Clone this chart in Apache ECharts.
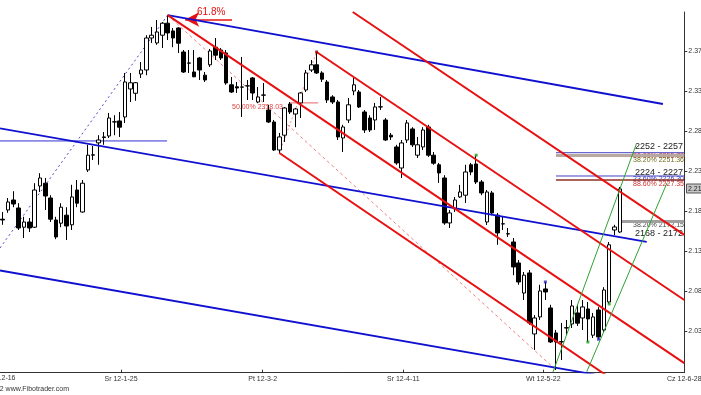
<!DOCTYPE html>
<html><head><meta charset="utf-8">
<script src="https://cdn.jsdelivr.net/npm/echarts@6/dist/echarts.min.js"></script>
<style>html,body{margin:0;padding:0;background:#fff}#c{width:701px;height:395px}</style>
</head><body><div id="c"></div><script>
// OHLC bars: [open, close, low, high]; x = bar index
const ohlc = [
[2.165,2.164,2.158,2.174],[2.1765,2.1865,2.173,2.1915],[2.189,2.184,2.180,2.200],[2.179,2.154,2.1515,2.185],
[2.155,2.1615,2.1415,2.168],[2.1615,2.154,2.149,2.1665],[2.155,2.2015,2.154,2.210],[2.2065,2.2165,2.199,2.2225],
[2.210,2.194,2.1765,2.2165],[2.1915,2.165,2.1615,2.195],[2.164,2.1428,2.140,2.168],[2.160,2.180,2.155,2.185],
[2.170,2.1565,2.139,2.180],[2.158,2.1928,2.1515,2.208],[2.2015,2.185,2.180,2.214],[2.174,2.210,2.173,2.214],
[2.2265,2.245,2.224,2.258],[2.245,2.2455,2.239,2.2565],[2.2604,2.264,2.233,2.270],[2.2678,2.2672,2.258,2.274],
[2.269,2.2915,2.2665,2.2978],[2.2865,2.2868,2.270,2.295],[2.2878,2.280,2.2678,2.299],[2.2928,2.3365,2.2853,2.3478],
[2.3278,2.3355,2.3115,2.3478],[2.3224,2.3356,2.313,2.3365],[2.3465,2.3515,2.3415,2.3615],[2.3515,2.3915,2.345,2.395],
[2.3915,2.395,2.3853,2.4053],[2.3853,2.399,2.383,2.414],[2.395,2.410,2.379,2.4115],[2.410,2.3978,2.389,2.420],
[2.4003,2.3915,2.380,2.404],[2.404,2.385,2.3728,2.405],[2.374,2.349,2.3478,2.3765],[2.360,2.3603,2.3478,2.3765],
[2.349,2.343,2.3425,2.3765],[2.3665,2.3515,2.339,2.3678],[2.345,2.339,2.3365,2.349],[2.358,2.3753,2.3553,2.3778],
[2.380,2.370,2.364,2.3915],[2.3765,2.3665,2.364,2.379],[2.3728,2.3353,2.333,2.3765],[2.333,2.324,2.3228,2.3428],
[2.3305,2.329,2.3228,2.3365],[2.330,2.3303,2.2928,2.3678],[2.3315,2.3318,2.314,2.339],[2.3415,2.3228,2.314,2.3428],
[2.3115,2.3178,2.310,2.3303],[2.320,2.3203,2.3115,2.3353],[2.3015,2.2865,2.2853,2.308],[2.2865,2.2515,2.2503,2.289],
[2.2515,2.2678,2.2478,2.2728],[2.270,2.304,2.2615,2.3053],[2.309,2.299,2.2965,2.3115],[2.2965,2.3028,2.280,2.304],
[2.3103,2.3228,2.2915,2.324],[2.3265,2.3478,2.324,2.3515],[2.3515,2.358,2.349,2.364],[2.358,2.3478,2.3465,2.374],
[2.3478,2.340,2.3365,2.350],[2.3365,2.314,2.3103,2.339],[2.3178,2.3115,2.309,2.320],[2.3115,2.2678,2.264,2.314],
[2.2665,2.2803,2.249,2.283],[2.289,2.308,2.2853,2.3165],[2.3253,2.333,2.320,2.3415],[2.324,2.3053,2.304,2.3265],
[2.299,2.2765,2.2728,2.3015],[2.2915,2.2765,2.274,2.295],[2.289,2.3053,2.2765,2.3103],[2.3053,2.3055,2.3015,2.3178],
[2.289,2.264,2.2628,2.2915],[2.270,2.2678,2.264,2.2728],[2.2553,2.2353,2.233,2.258],[2.229,2.2603,2.2165,2.264],
[2.264,2.2853,2.2603,2.289],[2.2778,2.258,2.2553,2.280],[2.245,2.258,2.2415,2.2678],[2.2553,2.2765,2.2515,2.280],
[2.2803,2.245,2.2428,2.283],[2.245,2.235,2.233,2.249],[2.233,2.2228,2.2103,2.2353],[2.2165,2.1603,2.158,2.220],
[2.1603,2.1728,2.154,2.1765],[2.1778,2.189,2.174,2.1928],[2.1928,2.199,2.1915,2.2078],[2.195,2.224,2.1853,2.233],
[2.233,2.224,2.220,2.2353],[2.234,2.2115,2.209,2.245],[2.2115,2.1978,2.195,2.214],[2.1615,2.199,2.1578,2.2015],
[2.1978,2.1728,2.170,2.2003],[2.170,2.1478,2.133,2.1728],[2.159,2.1593,2.1515,2.1678],[2.1468,2.1465,2.1428,2.154],
[2.1365,2.1053,2.095,2.1415],[2.1103,2.0865,2.083,2.114],[2.0727,2.095,2.064,2.099],[2.0978,2.0353,2.033,2.1015],
[2.0215,2.0415,2.0015,2.045],[2.0428,2.0753,2.039,2.083],[2.0778,2.074,2.064,2.0865],[2.054,2.0115,2.0103,2.058],
[2.0228,2.0115,1.9765,2.0265],[2.0115,2.012,1.989,2.0353],[2.0293,2.029,2.020,2.039],[2.034,2.0565,2.029,2.064],
[2.0478,2.035,2.0315,2.058],[2.0415,2.0553,2.0265,2.064],[2.0528,2.0403,2.0115,2.0615],[2.020,2.0428,2.0165,2.0478],
[2.0515,2.0178,2.015,2.055],[2.0265,2.0765,2.024,2.080],[2.0615,2.133,2.059,2.1365],[2.1515,2.1553,2.145,2.158],
[2.149,2.2028,2.1478,2.2053]
];
// x-axis date ticks (bar-index positions) and labels
const xTickPos = [22.24, 48.87, 75.30, 101.62, 128.12];
const xTickLabels = ['Sr 12-1-25', 'Pt 12-3-2', 'Sr 12-4-11', 'Wt 12-5-22', 'Cz 12-6-28'];
// y-axis ticks and labels
const yTickPos = [2.025, 2.075, 2.125, 2.175, 2.225, 2.275, 2.325, 2.375];
const yTickLabels = ['2.03', '2.08', '2.13', '2.18', '2.23', '2.28', '2.33', '2.37'];
const X_MIN = -0.508, X_MAX = 128.12, Y_MIN = 1.9731, Y_MAX = 2.424;

// trend lines, endpoints as [barIndex, price]
const blueTop = [[31, 2.420], [124.1, 2.309]];
const blueMid = [[-0.51, 2.2786], [121.05, 2.1365]];
const blueLow = [[-0.51, 2.1009], [112.3, 1.9696]];
const blueHoriz = [[-0.51, 2.2628], [30.9, 2.2628]];
const blueDotted = [[-0.51, 2.129], [31, 2.420]];
const redA = [[31, 2.420], [128.12, 1.985]];
const redB = [[59, 2.374], [128.12, 2.064]];
const redC = [[65.8, 2.424], [128.12, 2.1453]];
const redD = [[52, 2.2478], [114.2, 1.9665]];
const redDashed = [[31, 2.420], [104, 1.9765]];
const pinkDotted = [[52, 2.2478], [59, 2.374]];
const pink50 = [[54, 2.3103], [59.3, 2.3103]];
const greenA = [[103.44, 1.974], [119.04, 2.2578]];
const greenB = [[109.77, 1.974], [124.87, 2.2103]];
const zone1Blue = [[104, 2.2481], [128.12, 2.2481]];
const zone1Band = [[104, 2.2446], [128.12, 2.2446]];
const zone2Blue = [[104, 2.219], [128.12, 2.219]];
const zone2Red = [[104, 2.214], [128.12, 2.214]];
const zone3Band = [[116, 2.1621], [128.12, 2.1621]];
const arrow618 = [[43.1, 2.4146], [34.3, 2.4146]];
// fractal markers [barIndex, price, colour]
const markers = [[59, 2.374, '#a00000'], [89, 2.245, '#20a020'], [102, 2.0865, '#2020c0'], [110, 2.0115, '#20a020'], [112, 2.015, '#2020c0'], [114, 2.059, '#20a020']];

const FONT = "'Liberation Sans Narrow','Arial Narrow','Liberation Sans',Arial,sans-serif";

function ln(data, color, width, type, z) {
  return { type: 'line', data: data, symbol: 'none', silent: true, animation: false, clip: true, z: z || 3,
    lineStyle: { color: color, width: width, type: type || 'solid' } };
}

const chart = echarts.init(document.getElementById('c'), null, { renderer: 'canvas' });
const candleData = ohlc.map((d, i) => [i, d[0], d[1], d[2], d[3]]);

chart.setOption({
  animation: false,
  backgroundColor: '#fff',
  grid: { left: 0, right: 16.7, top: 12, bottom: 22.3, outerBoundsMode: 'none', containLabel: false },
  xAxis: {
    type: 'value', min: X_MIN, max: X_MAX, splitLine: { show: false },
    axisLine: { show: true, onZero: false, lineStyle: { color: '#333', width: 1 } },
    axisTick: { show: true, inside: true, length: 3, customValues: xTickPos, lineStyle: { color: '#333' } },
    axisLabel: { show: true, customValues: xTickPos, margin: 3, fontSize: 7, color: '#333', fontFamily: FONT,
      formatter: v => { let k = 0, b = 1e9; xTickPos.forEach((p, i) => { if (Math.abs(p - v) < b) { b = Math.abs(p - v); k = i; } }); return xTickLabels[k]; } }
  },
  yAxis: {
    type: 'value', position: 'right', min: Y_MIN, max: Y_MAX, scale: true, splitLine: { show: false },
    axisLine: { show: true, onZero: false, lineStyle: { color: '#333', width: 1 } },
    axisTick: { show: true, inside: false, length: 3, customValues: yTickPos, lineStyle: { color: '#333' } },
    axisLabel: { show: true, customValues: yTickPos, margin: 4, fontSize: 7, color: '#333', fontFamily: FONT, align: 'left',
      formatter: v => { let k = 0, b = 1e9; yTickPos.forEach((p, i) => { if (Math.abs(p - v) < b) { b = Math.abs(p - v); k = i; } }); return yTickLabels[k]; } }
  },
  series: [
    ln(blueHoriz, '#3030d0', 1),
    ln(blueDotted, '#4a4ad0', 1, [2, 3]),
    ln(redDashed, '#f08080', 1, [3, 3]),
    ln(pinkDotted, '#f09090', 1, [2, 2]),
    ln(pink50, '#f08080', 1.2),
    ln(zone1Band, '#b8a8a0', 3), ln(zone1Blue, '#4040c0', 1),
    ln(zone2Blue, '#4040c0', 1), ln(zone2Red, '#903020', 1.5),
    ln(zone3Band, '#a0a0a0', 3),
    {
      type: 'candlestick', data: candleData, barWidth: 4, z: 4, animation: false, silent: true,
      itemStyle: { color: '#fff', color0: '#000', borderColor: '#000', borderColor0: '#000', borderColorDoji: '#000', borderWidth: 1 }
    },
    ln(blueTop, '#1010d0', 1.8, 'solid', 5),
    ln(blueMid, '#1010d0', 1.8, 'solid', 5),
    ln(blueLow, '#1010d0', 1.8, 'solid', 5),
    ln(redA, '#e81010', 2, 'solid', 5),
    ln(redB, '#e81010', 2, 'solid', 5),
    ln(redC, '#e81010', 2, 'solid', 5),
    ln(redD, '#e81010', 2, 'solid', 5),
    ln(greenA, '#30a030', 1, 'solid', 5),
    ln(greenB, '#30a030', 1, 'solid', 5),
    {
      type: 'line', data: [], symbol: 'none', silent: true, animation: false, z: 6,
      markLine: { silent: true, animation: false, symbol: ['none', 'arrow'], symbolSize: [11, 14], label: { show: false },
        lineStyle: { color: '#e81010', width: 1.5, type: 'solid' },
        data: [[{ coord: arrow618[0] }, { coord: arrow618[1] }]] }
    },
    {
      type: 'scatter', silent: true, animation: false, z: 6, symbol: 'rect', symbolSize: 3,
      data: markers.map(m => ({ value: [m[0], m[1]], itemStyle: { color: m[2] } }))
    }
  ],
  graphic: [
    { type: 'text', left: 197, top: 7, style: { text: '61.8%', fill: '#e81010', font: '10px ' + FONT } },
    { type: 'text', x: 232, y: 107, style: { text: '50.00% 2318.03', fill: '#e04040', font: '7px ' + FONT, textVerticalAlign: 'middle' } },
    { type: 'text', x: 683, y: 147, style: { text: '2252 - 2257', fill: '#222', font: '9px ' + FONT, textAlign: 'right', textVerticalAlign: 'middle' } },
    { type: 'text', x: 684, y: 156, style: { text: '50.00% 2255.73', fill: '#d03030', font: '7px ' + FONT, textAlign: 'right', textVerticalAlign: 'middle' } },
    { type: 'text', x: 684, y: 160, style: { text: '38.20% 2251.36', fill: '#707020', font: '7px ' + FONT, textAlign: 'right', textVerticalAlign: 'middle' } },
    { type: 'text', x: 683, y: 172.5, style: { text: '2224 - 2227', fill: '#222', font: '9px ' + FONT, textAlign: 'right', textVerticalAlign: 'middle' } },
    { type: 'text', x: 684, y: 179, style: { text: '23.60% 2226.30', fill: '#3030c0', font: '7px ' + FONT, textAlign: 'right', textVerticalAlign: 'middle' } },
    { type: 'text', x: 684, y: 184, style: { text: '88.60% 2227.35', fill: '#d03030', font: '7px ' + FONT, textAlign: 'right', textVerticalAlign: 'middle' } },
    { type: 'text', x: 684, y: 225.5, style: { text: '38.20% 2172.15', fill: '#444', font: '7px ' + FONT, textAlign: 'right', textVerticalAlign: 'middle' } },
    { type: 'text', x: 683, y: 233.5, style: { text: '2168 - 2172', fill: '#222', font: '9px ' + FONT, textAlign: 'right', textVerticalAlign: 'middle' } },
    { type: 'text', x: 15.5, y: 378, style: { text: 'Pt 11-12-16', fill: '#333', font: '7px ' + FONT, textAlign: 'right', textVerticalAlign: 'middle' } },
    { type: 'text', x: -19, y: 389, style: { text: '© 2012 www.Fibotrader.com', fill: '#333', font: '7px ' + FONT, textVerticalAlign: 'middle' } },
    { type: 'rect', shape: { x: 686.5, y: 184, width: 15, height: 9 }, style: { fill: '#c8c8c8', stroke: '#555', lineWidth: 1 }, z: 10 },
    { type: 'text', x: 688, y: 188.7, z: 11, style: { text: '2.21', fill: '#222', font: '7px ' + FONT, textVerticalAlign: 'middle' } }
  ]
});
</script></body></html>
